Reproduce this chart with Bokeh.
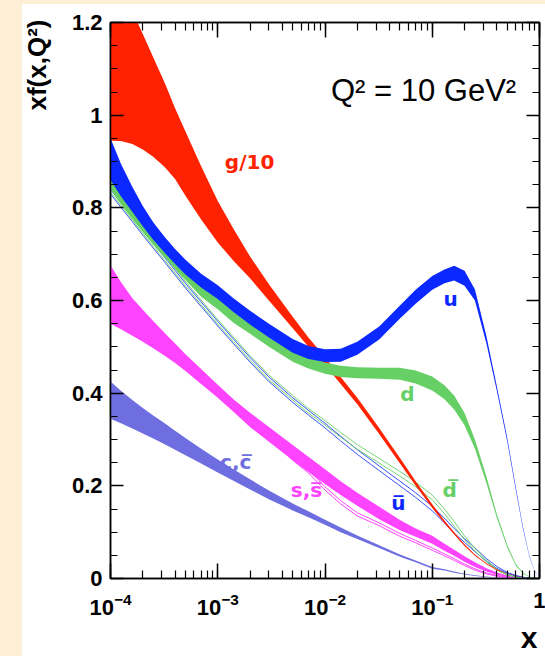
import numpy as np
from bokeh.plotting import figure
from bokeh.models import (LogAxis, LinearAxis, FixedTicker, LogTicker, Label, Range1d, Title)
from bokeh.embed import file_html
from bokeh.resources import INLINE

# ---------------- data ----------------
x = [1e-4, 1.25e-4, 1.6e-4, 2e-4, 2.5e-4, 3.2e-4, 4e-4, 5e-4, 7e-4, 1e-3, 1.4e-3, 2e-3,
     3e-3, 5e-3, 7e-3, 1e-2, 1.4e-2, 2e-2, 3.2e-2, 5e-2, 7e-2, 0.1, 0.13, 0.16, 0.2,
     0.25, 0.32, 0.4, 0.5, 0.6, 0.7, 0.8, 0.9, 1.0]

g_hi = [1.36, 1.29, 1.225, 1.175, 1.125, 1.07, 1.015, 0.965, 0.89, 0.815, 0.755, 0.695,
        0.635, 0.565, 0.52, 0.478, 0.435, 0.39, 0.325, 0.26, 0.21, 0.16, 0.125, 0.1, 0.074,
        0.052, 0.033, 0.02, 0.011, 0.006, 0.003, 0.0012, 0.0004, 0.0]
g_lo = [0.945, 0.944, 0.938, 0.926, 0.91, 0.888, 0.862, 0.826, 0.775, 0.725, 0.686, 0.648,
        0.60, 0.54, 0.5, 0.461, 0.42, 0.376, 0.312, 0.248, 0.2, 0.152, 0.119, 0.095, 0.07,
        0.049, 0.031, 0.018, 0.01, 0.0053, 0.0025, 0.001, 0.0003, 0.0]

u_hi = [0.95, 0.895, 0.845, 0.804, 0.769, 0.737, 0.711, 0.688, 0.658, 0.633, 0.605, 0.578,
        0.55, 0.517, 0.502, 0.495, 0.496, 0.511, 0.544, 0.589, 0.623, 0.653, 0.667, 0.675, 0.664,
        0.624, 0.523, 0.415, 0.304, 0.198, 0.112, 0.051, 0.0165, 0.0]
u_lo = [0.86, 0.825, 0.791, 0.76, 0.731, 0.703, 0.679, 0.656, 0.628, 0.603, 0.575, 0.548,
        0.52, 0.487, 0.474, 0.467, 0.468, 0.483, 0.516, 0.561, 0.593, 0.623, 0.637, 0.643, 0.632,
        0.60, 0.507, 0.405, 0.296, 0.192, 0.108, 0.049, 0.0155, 0.0]

d_hi = [0.864, 0.832, 0.80, 0.772, 0.745, 0.717, 0.692, 0.668, 0.632, 0.605, 0.576, 0.552,
        0.524, 0.492, 0.477, 0.466, 0.459, 0.456, 0.455, 0.455, 0.449, 0.436, 0.417, 0.395, 0.357,
        0.30, 0.22, 0.139, 0.073, 0.032, 0.013, 0.0045, 0.0012, 0.0]
d_lo = [0.84, 0.808, 0.776, 0.748, 0.721, 0.693, 0.668, 0.644, 0.608, 0.581, 0.552, 0.528,
        0.50, 0.468, 0.453, 0.442, 0.435, 0.432, 0.431, 0.429, 0.421, 0.406, 0.387, 0.365, 0.331,
        0.28, 0.206, 0.131, 0.067, 0.028, 0.011, 0.0035, 0.0008, 0.0]

ub_hi = [0.84, 0.811, 0.78, 0.751, 0.723, 0.693, 0.665, 0.637, 0.597, 0.555, 0.517, 0.477,
         0.435, 0.39, 0.363, 0.335, 0.307, 0.278, 0.243, 0.21, 0.185, 0.156, 0.13, 0.108, 0.086,
         0.066, 0.043, 0.026, 0.013, 0.0066, 0.0028, 0.0011, 0.0003, 0.0]
ub_lo = [0.83, 0.801, 0.77, 0.741, 0.713, 0.683, 0.655, 0.627, 0.587, 0.545, 0.507, 0.467,
         0.425, 0.38, 0.353, 0.325, 0.297, 0.268, 0.233, 0.20, 0.175, 0.146, 0.12, 0.098, 0.078,
         0.058, 0.037, 0.022, 0.011, 0.0054, 0.0022, 0.0009, 0.0003, 0.0]

db_hi = [0.844, 0.815, 0.784, 0.755, 0.727, 0.697, 0.669, 0.641, 0.601, 0.559, 0.521, 0.481,
         0.439, 0.395, 0.367, 0.341, 0.315, 0.289, 0.259, 0.231, 0.208, 0.18, 0.15, 0.123, 0.092,
         0.065, 0.04, 0.02, 0.0085, 0.0033, 0.0011, 0.0003, 0.0001, 0.0]
db_lo = [0.834, 0.805, 0.774, 0.745, 0.717, 0.687, 0.659, 0.631, 0.591, 0.549, 0.511, 0.471,
         0.429, 0.385, 0.357, 0.331, 0.305, 0.279, 0.249, 0.221, 0.198, 0.17, 0.14, 0.113, 0.084,
         0.059, 0.036, 0.018, 0.0075, 0.0027, 0.0009, 0.0003, 0.0001, 0.0]

s_hi = [0.676, 0.64, 0.605, 0.58, 0.556, 0.53, 0.507, 0.484, 0.452, 0.418, 0.387, 0.358,
        0.327, 0.288, 0.263, 0.236, 0.21, 0.185, 0.155, 0.126, 0.108, 0.092, 0.075, 0.062, 0.048,
        0.035, 0.022, 0.013, 0.0065, 0.003, 0.0013, 0.0005, 0.0001, 0.0]
s_lo = [0.55, 0.538, 0.524, 0.511, 0.497, 0.481, 0.465, 0.448, 0.42, 0.39, 0.36, 0.327,
        0.295, 0.255, 0.23, 0.204, 0.18, 0.157, 0.128, 0.104, 0.09, 0.075, 0.06, 0.049, 0.036,
        0.025, 0.015, 0.008, 0.0035, 0.0015, 0.0006, 0.0002, 0.0, 0.0]

sb_hi = [0.62, 0.595, 0.568, 0.548, 0.528, 0.507, 0.487, 0.467, 0.437, 0.405, 0.375, 0.343,
         0.311, 0.262, 0.235, 0.198, 0.168, 0.142, 0.12, 0.097, 0.082, 0.066, 0.053, 0.043, 0.031,
         0.021, 0.012, 0.0065, 0.003, 0.0013, 0.0005, 0.0002, 0.0, 0.0]
sb_lo = [0.61, 0.585, 0.558, 0.538, 0.518, 0.497, 0.477, 0.457, 0.427, 0.396, 0.366, 0.335,
         0.304, 0.255, 0.228, 0.191, 0.161, 0.135, 0.114, 0.091, 0.077, 0.061, 0.049, 0.039, 0.028,
         0.018, 0.01, 0.005, 0.0022, 0.001, 0.0004, 0.0001, 0.0, 0.0]

c_hi = [0.425, 0.405, 0.385, 0.368, 0.352, 0.335, 0.319, 0.303, 0.28, 0.257, 0.236, 0.214,
        0.19, 0.162, 0.145, 0.127, 0.11, 0.093, 0.072, 0.052, 0.039, 0.025, 0.02, 0.015, 0.0105,
        0.007, 0.0042, 0.0024, 0.0012, 0.0006, 0.0002, 0.0001, 0.0, 0.0]
c_lo = [0.345, 0.335, 0.324, 0.313, 0.302, 0.29, 0.278, 0.266, 0.248, 0.229, 0.211, 0.192,
        0.171, 0.147, 0.132, 0.116, 0.1, 0.085, 0.066, 0.047, 0.035, 0.021, 0.017, 0.0125, 0.0085,
        0.0055, 0.0032, 0.0018, 0.0009, 0.0004, 0.0001, 0.0, 0.0, 0.0]

y_ticks = [0, 0.2, 0.4, 0.6, 0.8, 1.0, 1.2]
y_minor = [0.05 * i for i in range(25)]
y_tick_labels = {0: "0", 1: "1"}
x_tick_labels = {1: "1"}

# ---------------- colours ----------------
RED = "#ff2200"
BLUE = "#0a28ff"
GREEN = "#66d066"
MAGENTA = "#ff44ff"
SLATE = "#6e6ee0"
CREAM = "#fcefd6"

# ---------------- figure ----------------
p = figure(width=545, height=656, x_axis_type="log",
           x_range=Range1d(1e-4, 1.0), y_range=Range1d(0, 1.2),
           output_backend="svg", toolbar_location=None,
           min_border_left=110, min_border_right=6, min_border_top=22, min_border_bottom=78)
p.background_fill_color = "white"
p.border_fill_color = None
p.styles = {"background": "linear-gradient(to right, %s 22px, rgba(255,255,255,0) 22px), "
                          "linear-gradient(to bottom, %s 4px, #ffffff 4px)" % (CREAM, CREAM)}
p.outline_line_color = "black"
p.outline_line_width = 1.5
p.xgrid.visible = False
p.ygrid.visible = False

# bands (back to front)
p.varea(x=x, y1=c_lo, y2=c_hi, fill_color=SLATE)
p.varea(x=x, y1=s_lo, y2=s_hi, fill_color=MAGENTA)
for yy in (sb_hi, sb_lo):
    p.line(x, yy, line_color=MAGENTA, line_width=1)
for yy in (ub_hi, ub_lo):
    p.line(x, yy, line_color=BLUE, line_width=1, line_alpha=0.8)
for yy in (db_hi, db_lo):
    p.line(x, yy, line_color=GREEN, line_width=1, line_alpha=0.9)
p.varea(x=x, y1=g_lo, y2=g_hi, fill_color=RED)
p.varea(x=x, y1=d_lo, y2=d_hi, fill_color=GREEN)
p.varea(x=x, y1=u_lo, y2=u_hi, fill_color=BLUE)

# axes
FONT = "Liberation Sans"
xa = p.xaxis[0]
ya = p.yaxis[0]
xa.ticker = LogTicker(num_minor_ticks=10)
xa.major_label_overrides = x_tick_labels
ya.ticker = FixedTicker(ticks=y_ticks, minor_ticks=y_minor)
ya.major_label_overrides = y_tick_labels

top = LogAxis(ticker=LogTicker(num_minor_ticks=10))
right = LinearAxis(ticker=FixedTicker(ticks=y_ticks, minor_ticks=y_minor))
p.add_layout(top, "above")
p.add_layout(right, "right")
for ax in (top, right):
    ax.major_label_text_font_size = "1px"
    ax.major_label_text_alpha = 0
    ax.major_label_standoff = 0

for ax in (xa, top):
    ax.major_tick_in = 15
    ax.major_tick_out = 0
    ax.minor_tick_in = 8
    ax.minor_tick_out = 0
for ax in (ya, right):
    ax.major_tick_in = 13
    ax.major_tick_out = 0
    ax.minor_tick_in = 7
    ax.minor_tick_out = 0
for ax in (xa, ya, top, right):
    ax.axis_line_width = 1.5
    ax.major_tick_line_width = 1.5
    ax.minor_tick_line_width = 1.2
    ax.axis_line_color = "black"
    ax.major_tick_line_color = "black"
    ax.minor_tick_line_color = "black"
for ax in (xa, ya):
    ax.major_label_text_font = FONT
    ax.major_label_text_font_style = "bold"
    ax.major_label_text_font_size = "22px"
    ax.major_label_text_color = "black"
xa.major_label_standoff = 14
ya.major_label_standoff = 8

# axis titles as side titles
p.add_layout(Title(text="xf(x,Q²)", align="right", vertical_align="middle", offset=-3,
                   standoff=31, text_font=FONT, text_font_style="bold", text_font_size="26px",
                   text_color="black"), "left")
p.add_layout(Title(text="x", align="right", vertical_align="middle", offset=2,
                   standoff=4, text_font=FONT, text_font_style="bold", text_font_size="30px",
                   text_color="black"), "below")

# annotation
p.add_layout(Label(x=0.083, y=1.053, text="Q² = 10 GeV²", text_font=FONT,
                   text_font_size="31px", text_align="center", text_baseline="middle",
                   text_color="black"))

LFONT = "DejaVu Sans"
labels = [
    (1.98e-3, 0.898, "g/10", RED),
    (0.148, 0.604, "u", BLUE),
    (0.0587, 0.399, "d", GREEN),
    (0.145, 0.19, "d\u0305", GREEN),
    (0.0484, 0.162, "u\u0305", BLUE),
    (6.73e-3, 0.19, "s,s\u0305", MAGENTA),
    (1.47e-3, 0.252, "c,c\u0305", SLATE),
]
for lx, ly, txt, col in labels:
    p.add_layout(Label(x=lx, y=ly, text=txt, text_font=LFONT, text_font_style="bold",
                       text_font_size="20px", text_align="center", text_baseline="middle",
                       text_color=col))

html = file_html(p, INLINE, title="xf(x,Q2)")
html = html.replace("</head>", "<style>body{background:%s;}</style></head>" % CREAM, 1)
open("out.html", "w").write(html)
